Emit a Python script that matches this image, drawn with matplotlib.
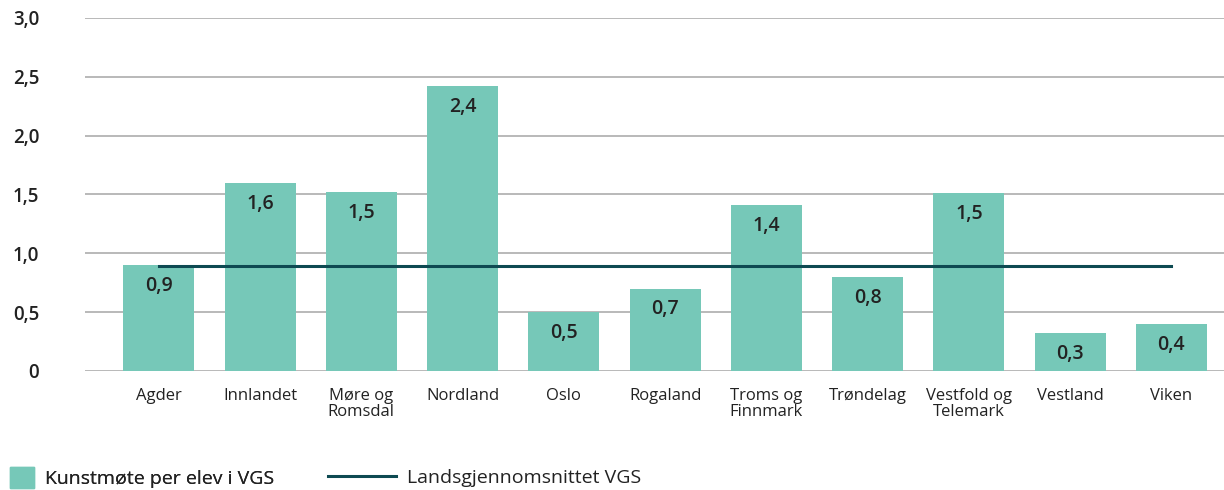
import matplotlib
matplotlib.use('Agg')
import matplotlib.pyplot as plt
from matplotlib.patches import Patch
from matplotlib.lines import Line2D

regions = ['Agder', 'Innlandet', 'Møre og\nRomsdal', 'Nordland', 'Oslo', 'Rogaland',
           'Troms og\nFinnmark', 'Trøndelag', 'Vestfold og\nTelemark', 'Vestland', 'Viken']
per_elev = [0.9, 1.6, 1.52, 2.42, 0.5, 0.7, 1.41, 0.8, 1.51, 0.32, 0.4]
bar_labels = ['0,9', '1,6', '1,5', '2,4', '0,5', '0,7', '1,4', '0,8', '1,5', '0,3', '0,4']
national_avg = 0.89
yticks = [0, 0.5, 1.0, 1.5, 2.0, 2.5, 3.0]
ytick_labels = ['0', '0,5', '1,0', '1,5', '2,0', '2,5', '3,0']

bar_color = '#76c8b8'
line_color = '#0e4a52'
text_color = '#222222'

plt.rcParams['font.family'] = ['Open Sans', 'DejaVu Sans']

fig = plt.figure(figsize=(12.24, 4.9), dpi=100)
ax = fig.add_axes([0.0694, 0.2429, 0.9306, 0.7204])

x = list(range(len(regions)))
ax.bar(x, per_elev, width=0.7, color=bar_color, zorder=2)
ax.plot([x[0], x[-1]], [national_avg, national_avg], color=line_color, lw=2.2, zorder=3)

for xi, v, lab in zip(x, per_elev, bar_labels):
    ax.annotate(lab, (xi, v), xytext=(0, -15), textcoords='offset points',
                ha='center', va='center', fontsize=14, fontweight='semibold',
                color=text_color, zorder=4)

ax.set_xlim(-0.73, 10.52)
ax.set_ylim(0, 3.0)
ax.set_yticks(yticks)
ax.set_yticklabels(ytick_labels, fontweight='semibold')
ax.set_xticks(x)
ax.set_xticklabels(regions, linespacing=1.0)
ax.tick_params(axis='y', length=0, pad=33, labelsize=13.5, colors=text_color)
ax.tick_params(axis='x', length=0, pad=12, labelsize=12, colors=text_color)
ax.grid(axis='y', color='#b3b3b3', lw=1.3, zorder=0)
for s in ax.spines.values():
    s.set_visible(False)

leg_kw = dict(loc='center left', frameon=False, prop={'size': 14}, borderpad=0,
              borderaxespad=0, handletextpad=0.55, labelcolor=text_color)
leg1 = fig.legend([Patch(color=bar_color)], ['Kunstmøte per elev i VGS'],
                  bbox_to_anchor=(0.008, 0.025), handlelength=1.25, handleheight=1.25, **leg_kw)
fig.add_artist(leg1)
fig.legend([Line2D([0], [0], color=line_color, lw=2.2)], ['Landsgjennomsnittet VGS'],
           bbox_to_anchor=(0.268, 0.025), handlelength=3.5, **leg_kw)

fig.savefig('out.png', dpi=100)
